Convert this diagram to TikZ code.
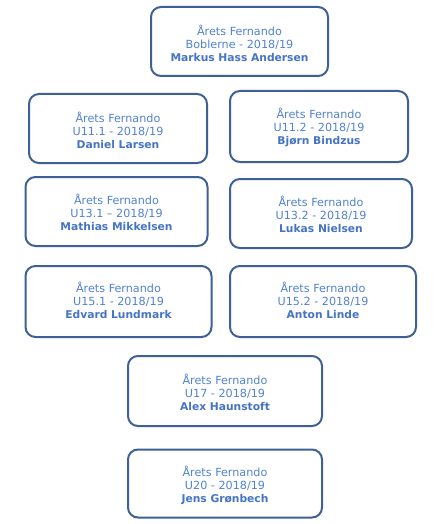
\documentclass[tikz,border=0pt]{standalone}
\usepackage{fontspec}
\setmainfont{DejaVu Sans}
\definecolor{boxline}{RGB}{62,96,150}
\definecolor{txtlight}{RGB}{82,130,210}
\definecolor{txtbold}{RGB}{70,116,196}
\newcommand{\fern}[3]{{\color{txtlight}#1}\\{\color{txtlight}#2}\\{\fontsize{10.7}{13}\selectfont\bfseries\color{txtbold}#3}}
\begin{document}
\begin{tikzpicture}[x=1pt,y=-1pt,
  fbox/.style={draw=boxline, line width=2pt, rounded corners=10pt, fill=white, inner sep=0pt},
  ftext/.style={align=center, inner sep=0pt, font=\fontsize{11.2}{13}\selectfont}]
\useasboundingbox[fill=white] (0,0) rectangle (436,524);
\node[fbox, minimum width=177pt, minimum height=69pt] (bob) at (239.5,41.5) {};
\node[ftext] (bobt) at (239.5,43) {\fern{Årets Fernando}{Boblerne - 2018/19}{Markus Hass Andersen}};
\node[fbox, minimum width=178pt, minimum height=69pt] (u111) at (118,128.5) {};
\node[ftext] (u111t) at (118,130) {\fern{Årets Fernando}{U11.1 - 2018/19}{Daniel Larsen}};
\node[fbox, minimum width=178pt, minimum height=71pt] (u112) at (319,126.5) {};
\node[ftext] (u112t) at (319,127) {\fern{Årets Fernando}{U11.2 - 2018/19}{Bjørn Bindzus}};
\node[fbox, minimum width=182pt, minimum height=69pt] (u131) at (116.5,211.5) {};
\node[ftext] (u131t) at (116.5,212) {\fern{Årets Fernando}{U13.1 – 2018/19}{Mathias Mikkelsen}};
\node[fbox, minimum width=182pt, minimum height=69pt] (u132) at (321,213.5) {};
\node[ftext] (u132t) at (321,214) {\fern{Årets Fernando}{U13.2 - 2018/19}{Lukas Nielsen}};
\node[fbox, minimum width=186pt, minimum height=71pt] (u151) at (118.5,301.5) {};
\node[ftext] (u151t) at (118.5,300) {\fern{Årets Fernando}{U15.1 - 2018/19}{Edvard Lundmark}};
\node[fbox, minimum width=186pt, minimum height=71pt] (u152) at (323,301.5) {};
\node[ftext] (u152t) at (323,300) {\fern{Årets Fernando}{U15.2 - 2018/19}{Anton Linde}};
\node[fbox, minimum width=194pt, minimum height=70pt] (u17) at (225,391) {};
\node[ftext] (u17t) at (225,392) {\fern{Årets Fernando}{U17 - 2018/19}{Alex Haunstoft}};
\node[fbox, minimum width=194pt, minimum height=68pt] (u20) at (225,483.5) {};
\node[ftext] (u20t) at (225,485) {\fern{Årets Fernando}{U20 - 2018/19}{Jens Grønbech}};
\end{tikzpicture}
\end{document}
